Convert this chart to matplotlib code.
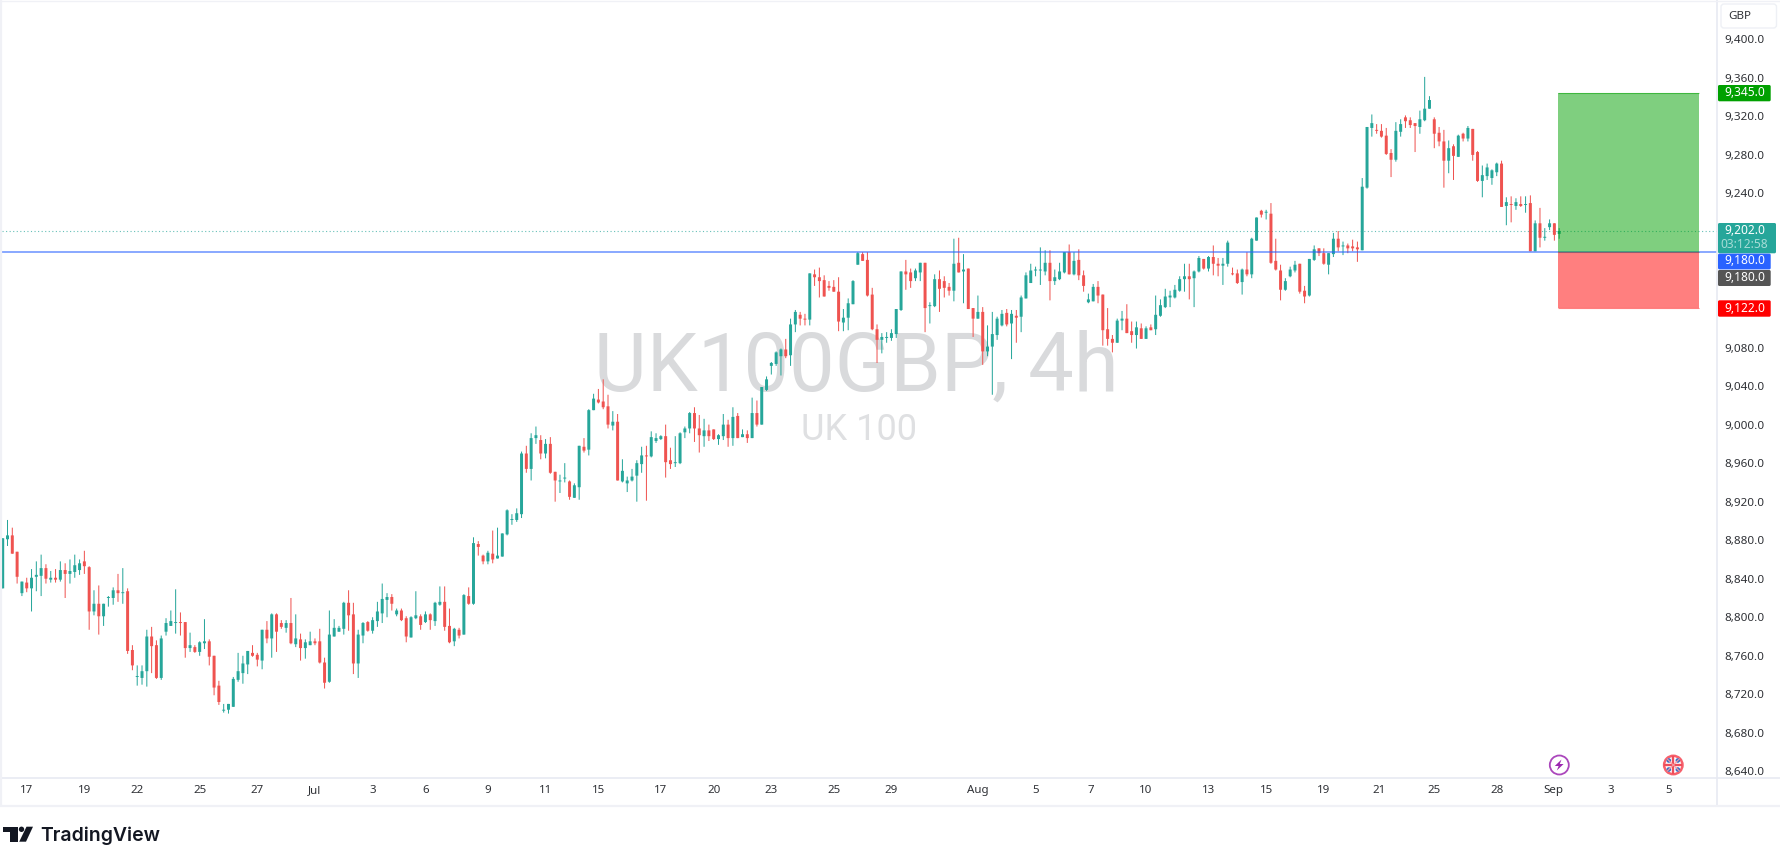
import matplotlib
matplotlib.use("Agg")
import matplotlib.pyplot as plt
from matplotlib.patches import Circle, FancyBboxPatch, Polygon, Rectangle
from matplotlib.transforms import ScaledTranslation

plt.rcParams['font.family'] = ['Noto Sans', 'DejaVu Sans']

UP = '#26a69a'
DOWN = '#ef5350'

# 4h candles
opens = [
    8831,8882,8886,8869,8826,8837,8831,8843,8844,8852, 8840,8842,8840,8850,8846,8848,8850,8859,8853,8807,
    8815,8802,8821,8821,8829,8826,8828,8767,8739,8738, 8745,8781,8772,8738,8786,8792,8795,8796,8796,8769,
    8770,8765,8774,8776,8761,8730,8704,8705,8708,8736, 8743,8752,8764,8762,8756,8788,8779,8804,8795,8790,
    8795,8773,8778,8769,8772,8776,8776,8754,8734,8781, 8786,8789,8816,8804,8753,8782,8796,8787,8797,8805,
    8819,8822,8804,8808,8800,8780,8800,8802,8796,8804, 8797,8814,8817,8792,8776,8788,8783,8823,8815,8877,
    8865,8859,8867,8862,8864,8887,8902,8902,8908,8971, 8955,8987,8985,8971,8981,8952,8942,8945,8942,8925,
    8936,8978,8975,9016,9027,9025,9020,9000,9004,8942, 8940,8943,8948,8960,8969,8968,8984,8986,8989,8964,
    8961,8961,8993,8997,9013,8997,8989,8995,8996,8986, 8989,9001,8987,9010,8988,8991,8987,9013,9001,9037,
    9062,9064,9072,9079,9073,9105,9115,9111,9110,9157, 9154,9151,9145,9144,9139,9107,9112,9126,9167,9178,
    9172,9136,9100,9089,9091,9091,9095,9120,9160,9159, 9153,9159,9169,9124,9124,9152,9150,9144,9140,9169,
    9160,9163,9122,9111,9118,9077,9082,9094,9104,9117, 9106,9114,9113,9132,9148,9161,9161,9160,9169,9150,
    9152,9159,9180,9157,9172,9156,9128,9129,9144,9136, 9100,9090,9086,9109,9111,9098,9094,9101,9090,9102,
    9100,9114,9123,9133,9133,9140,9152,9155,9153,9160, 9173,9163,9175,9168,9166,9168,9158,9158,9149,9162,
    9157,9192,9223,9221,9220,9171,9161,9141,9155,9161, 9168,9140,9135,9172,9184,9179,9167,9178,9194,9186,
    9187,9186,9185,9182,9247,9309,9307,9306,9301,9283, 9276,9305,9320,9317,9314,9310,9317,9329,9318,9304,
    9295,9275,9290,9279,9303,9298,9308,9284,9254,9259, 9257,9263,9272,9228,9230,9228,9230,9229,9231,9181,
    9210,9195,9206,9210,9199,
]
highs = [
    8883,8902,8894,8869,8838,8842,8851,8859,8866,8856, 8849,8851,8859,8857,8861,8866,8861,8870,8854,8829,
    8834,8815,8823,8832,8846,8852,8831,8772,8751,8751, 8788,8791,8777,8782,8800,8808,8830,8806,8796,8785,
    8772,8776,8799,8778,8761,8735,8711,8711,8739,8764, 8761,8766,8772,8764,8788,8797,8805,8805,8798,8798,
    8821,8804,8784,8778,8786,8779,8789,8759,8808,8799, 8792,8817,8829,8816,8788,8796,8797,8801,8817,8836,
    8826,8825,8810,8810,8802,8802,8828,8804,8807,8805, 8817,8833,8833,8810,8790,8790,8825,8832,8884,8880,
    8866,8870,8891,8894,8888,8913,8908,8914,8973,8979, 8992,8999,8990,8986,8988,8952,8949,8961,8943,8940,
    8979,8987,9017,9033,9038,9048,9032,9015,9012,8965, 8947,8955,8964,8978,8979,8994,8992,8990,9001,8977,
    8989,8993,8999,9014,9019,9011,9007,9001,8996,8991, 9012,9006,9019,9013,8996,8995,9029,9026,9040,9051,
    9066,9077,9080,9090,9111,9120,9118,9116,9158,9162, 9164,9156,9150,9151,9154,9121,9132,9151,9180,9180,
    9180,9143,9105,9096,9097,9100,9121,9160,9172,9163, 9163,9169,9169,9128,9157,9161,9155,9148,9194,9195,
    9178,9163,9122,9135,9123,9104,9118,9113,9120,9121, 9120,9120,9135,9159,9168,9165,9185,9182,9182,9162,
    9169,9180,9188,9180,9183,9161,9137,9147,9150,9136, 9122,9094,9111,9119,9126,9108,9108,9106,9103,9105,
    9135,9131,9142,9140,9146,9155,9168,9168,9161,9176, 9173,9176,9187,9174,9174,9192,9164,9162,9163,9180,
    9195,9216,9224,9224,9231,9194,9167,9153,9165,9171, 9168,9145,9173,9187,9184,9184,9179,9200,9202,9191,
    9189,9193,9191,9257,9310,9323,9313,9313,9309,9287, 9315,9318,9322,9320,9314,9327,9362,9342,9320,9310,
    9307,9296,9292,9302,9304,9311,9308,9285,9270,9272, 9266,9273,9275,9237,9238,9236,9238,9238,9239,9213,
    9226,9205,9214,9210,9205,
]
lows = [
    8831,8875,8867,8836,8823,8827,8807,8828,8823,8836, 8837,8837,8838,8821,8836,8842,8845,8846,8788,8803,
    8783,8792,8812,8814,8817,8815,8763,8746,8730,8731, 8729,8743,8737,8736,8782,8792,8784,8782,8759,8765,
    8764,8761,8768,8751,8720,8710,8702,8701,8708,8734, 8732,8742,8760,8750,8747,8774,8759,8765,8789,8785,
    8773,8770,8756,8758,8772,8772,8753,8727,8733,8781, 8786,8783,8787,8742,8738,8774,8786,8784,8791,8795,
    8801,8808,8802,8797,8775,8780,8799,8788,8795,8788, 8792,8813,8787,8774,8771,8779,8783,8814,8814,8865,
    8856,8856,8857,8862,8864,8886,8897,8900,8904,8951, 8943,8981,8965,8966,8950,8921,8930,8941,8923,8925,
    8923,8972,8969,9016,9023,9017,8997,8995,8943,8941, 8931,8942,8921,8951,8922,8967,8982,8985,8946,8955,
    8957,8960,8987,8992,8983,8972,8978,8984,8985,8980, 8985,8978,8979,8987,8988,8982,8987,8999,9001,9036,
    9053,9062,9052,9070,9062,9097,9104,9104,9104,9145, 9133,9134,9140,9139,9098,9098,9099,9126,9167,9171,
    9134,9099,9065,9075,9086,9088,9091,9119,9141,9143, 9150,9150,9097,9106,9123,9118,9133,9135,9129,9159,
    9127,9121,9092,9111,9063,9072,9032,9089,9103,9103, 9069,9086,9097,9132,9148,9155,9146,9156,9130,9146,
    9151,9158,9157,9156,9151,9139,9127,9129,9127,9083, 9083,9076,9086,9099,9096,9086,9080,9090,9090,9099,
    9094,9113,9122,9123,9132,9139,9139,9131,9123,9159, 9162,9160,9156,9155,9146,9165,9156,9147,9136,9155,
    9153,9192,9216,9214,9168,9161,9130,9140,9154,9159, 9137,9127,9134,9171,9176,9167,9157,9175,9181,9177,
    9179,9181,9170,9182,9246,9300,9303,9299,9281,9258, 9274,9300,9309,9309,9284,9303,9316,9329,9288,9290,
    9247,9262,9255,9279,9295,9295,9275,9253,9237,9255, 9250,9259,9227,9208,9211,9224,9227,9221,9181,9181,
    9185,9192,9203,9192,9194,
]
closes = [
    8883,8886,8867,8843,8838,8831,8842,8845,8852,8841, 8842,8840,8850,8846,8849,8855,8857,8854,8807,8815,
    8802,8815,8822,8829,8826,8827,8766,8751,8740,8745, 8781,8771,8738,8779,8795,8797,8796,8795,8769,8772,
    8765,8775,8776,8760,8728,8713,8705,8711,8737,8745, 8753,8766,8761,8757,8788,8779,8804,8786,8791,8795,
    8774,8779,8769,8775,8776,8774,8754,8733,8783,8790, 8790,8816,8803,8753,8783,8795,8787,8798,8807,8820,
    8822,8815,8808,8798,8781,8801,8803,8793,8804,8798, 8816,8817,8791,8775,8789,8782,8824,8815,8878,8874,
    8859,8868,8861,8865,8888,8912,8903,8909,8971,8955, 8987,8990,8971,8981,8951,8943,8943,8946,8926,8938,
    8979,8974,9016,9028,9024,9019,9001,9004,8943,8953, 8943,8947,8961,8969,8968,8988,8987,8989,8962,8960,
    8962,8992,8997,9013,8997,8990,8995,8989,8986,8990, 9001,8987,9009,8987,8991,8987,9013,9001,9040,9048,
    9065,9076,9079,9072,9105,9118,9111,9110,9158,9154, 9150,9134,9143,9139,9108,9112,9127,9150,9179,9171,
    9135,9100,9089,9092,9092,9096,9121,9160,9157,9150, 9161,9169,9122,9125,9152,9142,9143,9140,9168,9159,
    9162,9121,9111,9118,9077,9082,9095,9111,9116,9105, 9116,9112,9133,9156,9161,9162,9162,9169,9150,9154,
    9160,9180,9157,9171,9156,9145,9131,9144,9135,9099, 9090,9086,9109,9111,9096,9094,9102,9090,9101,9099,
    9115,9125,9134,9135,9141,9152,9155,9152,9160,9174, 9163,9175,9168,9166,9168,9190,9157,9148,9162,9157,
    9194,9216,9219,9222,9169,9162,9141,9150,9162,9167, 9139,9134,9173,9183,9179,9168,9179,9194,9185,9187,
    9184,9184,9183,9248,9310,9314,9306,9300,9282,9276, 9306,9313,9316,9312,9311,9318,9329,9338,9303,9295,
    9275,9288,9280,9301,9298,9309,9281,9254,9260,9268, 9265,9272,9227,9232,9229,9232,9228,9230,9181,9210,
    9195,9196,9210,9198,9202,
]

# 9120, 9160 and 9200 sit behind the price badges in the reference
price_ticks = [8640, 8680, 8720, 8760, 8800, 8840, 8880, 8920, 8960, 9000, 9040, 9080,
               9240, 9280, 9320, 9360, 9400]
time_ticks = [5, 17, 28, 41, 53, 65, 77, 88, 101, 113, 124, 137, 148, 160, 173, 185, 203, 215, 226.5,
              238, 251, 263, 275, 286.5, 298, 311, 322.7, 334.8, 346.8]
time_labels = ['17', '19', '22', '25', '27', 'Jul', '3', '6', '9', '11', '15', '17', '20', '23', '25', '29',
               'Aug', '5', '7', '10', '13', '15', '19', '21', '25', '28', 'Sep', '3', '5']

entry = 9180
target = 9345
stop = 9122
last_price = 9202

W, H = 1781, 858
fig = plt.figure(figsize=(W / 100, H / 100), dpi=100, facecolor='white')
ax = fig.add_axes([2 / W, (H - 778) / H, 1715 / W, 777 / H])
ax.set_xlim(-0.146, 356.85)
ax.set_ylim(8634.1, 9440.8)
for s in ax.spines.values():
    s.set_visible(False)

# watermark
ax.text(0.4984, 0.5275, 'UK100GBP, 4h', transform=ax.transAxes, family='Roboto', fontsize=58.5,
        color='#d9dadc', ha='center', va='center', zorder=0)
ax.text(0.5, 0.4475, 'UK 100', transform=ax.transAxes, family='Roboto', fontsize=26,
        color='#dfe0e2', ha='center', va='center', zorder=0)

# candles
idx = list(range(len(opens)))
colors = [UP if c >= o else DOWN for o, c in zip(opens, closes)]
wicks = ax.vlines(idx, lows, highs, colors=colors, lw=0.72, zorder=2)
wicks.set_snap(False)
ax.bar(idx, [abs(c - o) for o, c in zip(opens, closes)], bottom=[min(o, c) for o, c in zip(opens, closes)],
       width=0.62, color=colors, linewidth=0, snap=False, zorder=3)

# lines
ax.axhline(last_price, color=UP, lw=0.8, ls=(0, (1, 2.2)), alpha=0.7, zorder=1)
ax.axhline(entry, color='#2962ff', lw=1.1, alpha=0.7, zorder=4)

# long position box
box_l, box_r = 323.8, 353.0
ax.add_patch(Rectangle((box_l, entry), box_r - box_l, target - entry, facecolor='#00a000', alpha=0.5, lw=0, zorder=5))
ax.add_patch(Rectangle((box_l, stop), box_r - box_l, entry - stop, facecolor='#ff0000', alpha=0.5, lw=0, zorder=5))
ax.plot([box_l, box_r], [target, target], color='#00a000', lw=0.8, alpha=0.5, zorder=6, solid_capstyle='butt')
ax.plot([box_l, box_r], [entry, entry], color='#666666', lw=0.8, alpha=0.6, zorder=6, solid_capstyle='butt')
ax.plot([box_l, box_r], [stop, stop], color='#ff0000', lw=0.8, alpha=0.5, zorder=6, solid_capstyle='butt')

ax.yaxis.tick_right()
ax.set_yticks(price_ticks)
ax.set_yticklabels([f'{p:,.1f}' for p in price_ticks])
ax.tick_params(axis='y', length=0, pad=5, labelsize=8.4, labelcolor='#2f3136')
ax.set_xticks(time_ticks)
ax.set_xticklabels(time_labels)
ax.tick_params(axis='x', length=0, pad=5, labelsize=8.3, labelcolor='#2f3136')
nudge = ScaledTranslation(0, 1 / 100, fig.dpi_scale_trans)
for lab in ax.get_yticklabels():
    lab.set_transform(lab.get_transform() + nudge)
for lab in ax.get_xticklabels():
    if lab.get_text() in ('Jul', 'Aug', 'Sep'):
        lab.set_fontweight('bold')

# everything else sits in pixel space on top
ov = fig.add_axes([0, 0, 1, 1], zorder=10)
ov.set_xlim(0, W)
ov.set_ylim(H, 0)
ov.axis('off')
ov.patch.set_alpha(0)

LINE = '#e8eaf2'
ov.plot([1717, 1717], [0, 805], color=LINE, lw=1.2)
ov.plot([1, 1781], [778, 778], color=LINE, lw=1.2)
ov.plot([1, 1781], [805.5, 805.5], color='#f0f1f6', lw=1.6)
ov.plot([1, 1, ], [0, 805], color='#f0f1f6', lw=1.6)
ov.plot([0, 1781], [0.5, 0.5], color='#f0f1f6', lw=1)

ov.add_patch(FancyBboxPatch((1721, 4), 55.5, 24, boxstyle='round,pad=0,rounding_size=3', facecolor='white',
                            edgecolor='#eef0f5', lw=1))
ov.text(1740, 16.5, 'GBP', fontsize=8.3, color='#2f3136', ha='center', va='center')


def badge(y0, y1, color, label, x1=1770.7):
    ov.add_patch(FancyBboxPatch((1718, y0), x1 - 1718, y1 - y0, boxstyle='round,pad=0,rounding_size=1.5',
                                facecolor=color, edgecolor='none', lw=0))
    ov.text(1744.5, (y0 + y1) / 2 - 0.5, label, fontsize=8.6, color='white', ha='center', va='center')


badge(85, 101.3, '#00a000', f'{target:,.1f}')
ov.add_patch(FancyBboxPatch((1718, 223), 58, 30.3, boxstyle='round,pad=0,rounding_size=1.5', facecolor=UP,
                            edgecolor='none', lw=0))
ov.text(1744.5, 230.5, f'{last_price:,.1f}', fontsize=8.6, color='white', ha='center', va='center')
ov.text(1744.5, 244, '03:12:58', fontsize=8.6, color='#a6dcd6', ha='center', va='center')
badge(253.6, 269.4, '#2962ff', f'{entry:,.1f}')
badge(270, 286, '#555555', f'{entry:,.1f}')
badge(300.3, 316.7, '#ff0000', f'{stop:,.1f}')

# lightning event
ov.add_patch(Circle((1559.3, 765), 9.5, facecolor='white', edgecolor='#ab47bc', lw=1.3))
ov.add_patch(Polygon([(1561.5, 759.5), (1554.8, 766), (1558.6, 766), (1556.8, 770.5), (1563.6, 764),
                      (1559.8, 764)], closed=True, facecolor='#9c27b0', edgecolor='none'))

# uk flag event
fx, fy = 1673.3, 765
flag = Circle((fx, fy), 9.2, facecolor='white', edgecolor='#f7606c', lw=1.8)
ov.add_patch(flag)
for dx, dy in [(-4.5, -4.5), (4.5, -4.5), (-4.5, 4.5), (4.5, 4.5)]:
    ov.add_patch(Circle((fx + dx, fy + dy), 2.3, facecolor='#3f6fc4', edgecolor='none'))
ov.plot([fx - 8, fx + 8], [fy, fy], color='#ee4d5a', lw=1.7)
ov.plot([fx, fx], [fy - 8, fy + 8], color='#ee4d5a', lw=1.7)
ov.plot([fx - 6, fx + 6], [fy - 6, fy + 6], color='#f59aa2', lw=0.8)
ov.plot([fx - 6, fx + 6], [fy + 6, fy - 6], color='#f59aa2', lw=0.8)

# logo
LOGO = '#131722'
ov.add_patch(Polygon([(3.3, 826.7), (18.3, 826.7), (18.3, 841.7), (10.3, 841.7), (10.3, 832), (3.3, 832)],
                     closed=True, facecolor=LOGO, edgecolor='none'))
ov.add_patch(Circle((21.5, 829.3), 2.7, facecolor=LOGO, edgecolor='none'))
ov.add_patch(Polygon([(26.5, 826.7), (33, 826.7), (26, 841.7), (19.2, 841.7)], closed=True, facecolor=LOGO,
                     edgecolor='none'))
ov.text(40.5, 835.5, 'TradingView', family='Inter', fontweight='semibold', fontsize=14, color=LOGO, ha='left',
        va='center')

fig.savefig('out.png', dpi=100)
